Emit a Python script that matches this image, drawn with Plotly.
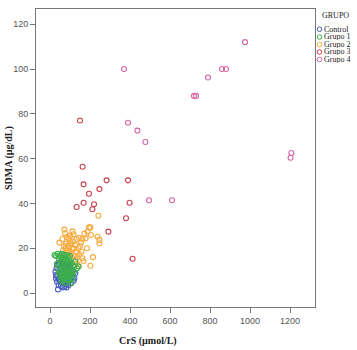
import plotly.graph_objects as go

# ---- data ----
groups = ["Control", "Grupo 1", "Grupo 2", "Grupo 3", "Grupo 4"]
colors = ["#4a5cc0", "#3cb04a", "#f7aa3c", "#c8414e", "#d466a6"]

control_x = [40, 43, 35, 30, 27, 30, 33, 38, 45, 50, 52, 55, 58, 60, 62, 65, 68, 70, 72, 75, 78, 80, 82, 85, 88,
             90, 92, 95, 98, 100, 105, 108, 112, 118, 127, 48, 52, 57, 63, 67, 73, 77, 83, 87, 93, 103, 115, 122, 36, 44]
control_y = [1.6, 3.6, 5, 6.5, 9.5, 8, 11, 12.5, 13.5, 7, 5, 3, 6, 9, 12, 4.5, 7.5, 10.5, 2.8, 6, 8.5, 12, 4, 7, 9.5,
             5.5, 3.5, 8, 11, 6.5, 4.5, 9, 7, 5.5, 8.8, 9, 11, 14, 2.5, 13, 5, 11, 2.5, 12.5, 10, 12, 10, 6.5, 7.5, 6]

g1_x = [23, 30, 38, 45, 50, 55, 60, 65, 70, 75, 80, 85, 90, 95, 100, 35, 42, 48, 53, 57, 62, 66, 70, 73, 77, 82, 86,
        90, 94, 98, 103, 108, 112, 118, 125, 135, 143, 55, 60, 65, 68, 72, 76, 80, 84, 88, 92, 96, 100, 105, 107,
        110, 115, 50, 45, 58, 63, 78, 85, 120]
g1_y = [17, 16.5, 17.5, 15, 17, 16, 17.5, 15.5, 17, 16.5, 15, 17, 16, 14.5, 16.5, 13, 11, 12.5, 9.5, 13.5, 11, 8,
        12.5, 10, 13.5, 11.5, 9, 12.5, 10.5, 13, 11, 13.5, 10, 12, 14, 11, 11.8, 6.5, 5, 10, 6, 7.5, 4.5, 8.5, 6, 7,
        5.5, 8, 7, 9, 4.3, 6.5, 8, 8, 9, 14.5, 7, 9.5, 14, 9.5]

g2_x = [242, 195, 202, 72, 75, 188, 172, 117, 145, 178, 205, 238, 247, 247, 92, 100, 133, 162, 62, 120, 142, 162,
        167, 202, 147, 158, 47, 143, 47, 80, 88, 95, 105, 110, 115, 125, 130, 85, 90, 78, 98, 108, 118, 128, 138,
        150, 70, 65, 100, 112, 83, 155, 185, 215, 135]
g2_y = [34.5, 29.3, 29.3, 28.3, 26.6, 27.4, 26.5, 26.2, 24.7, 24.4, 25.9, 25.1, 23.7, 22.2, 24.4, 23.2, 24.1, 24.1,
        24.1, 19.8, 20, 15.5, 14.3, 12.2, 17.3, 18.4, 22.5, 12, 16.2, 22, 21, 20.5, 22, 20, 23, 21.5, 18.5, 19, 18,
        20, 18.5, 17.5, 16.5, 15, 16, 21, 21, 19, 25.5, 27.5, 25, 22.5, 20, 16, 13]

g3_x = [150, 163, 168, 283, 390, 195, 247, 168, 220, 133, 212, 398, 380, 413, 292]
g3_y = [77, 56.4, 48.5, 50.3, 50.3, 44.3, 46.4, 40.3, 39.6, 38.4, 37.4, 40.3, 33.4, 15.3, 27.4]

g4_x = [370, 975, 860, 880, 790, 720, 730, 390, 437, 477, 495, 610, 1207, 1203]
g4_y = [100, 112, 100, 100, 96.2, 88, 88, 76, 72.5, 67.4, 41.4, 41.4, 62.5, 60.4]

x_ticks = [0, 200, 400, 600, 800, 1000, 1200]
y_ticks = [0, 20, 40, 60, 80, 100, 120]

series = {
    "Control": (control_x, control_y),
    "Grupo 1": (g1_x, g1_y),
    "Grupo 2": (g2_x, g2_y),
    "Grupo 3": (g3_x, g3_y),
    "Grupo 4": (g4_x, g4_y),
}
draw_order = ["Grupo 4", "Grupo 3", "Grupo 2", "Control", "Grupo 1"]

fig = go.Figure()
for name in draw_order:
    xs, ys = series[name]
    c = colors[groups.index(name)]
    fig.add_trace(go.Scatter(
        x=xs, y=ys, mode="markers", name=name, showlegend=False,
        marker=dict(symbol="circle-open", size=5, color=c, line=dict(width=1.1, color=c)),
    ))

W, H = 357, 350
L, R, T, B = 36, 42, 9, 43
pw, ph = W - L - R, H - T - B

def px2paper_x(px):
    return (px - L) / pw

def px2paper_y(py):
    return (H - B - py) / ph

axis_common = dict(
    showline=True, linecolor="#777", linewidth=1, mirror=True,
    ticks="outside", ticklen=5, tickcolor="#777", tickwidth=1,
    showgrid=False, zeroline=False,
    tickfont=dict(family="Liberation Sans, Arial", size=9, color="#555"),
)

fig.update_layout(
    width=W, height=H,
    margin=dict(l=L, r=R, t=T, b=B),
    paper_bgcolor="white", plot_bgcolor="white",
    xaxis=dict(range=[-70, 1325], tickvals=x_ticks, **axis_common),
    yaxis=dict(range=[-6.25, 126.8], tickvals=y_ticks, **axis_common),
    font=dict(family="Liberation Serif, Times New Roman, serif", size=9, color="#222"),
)

annotations = [
    dict(text="<b>CrS (µmol/L)</b>", x=px2paper_x(148), y=px2paper_y(341), xref="paper", yref="paper",
         showarrow=False, xanchor="center", yanchor="middle",
         font=dict(family="Liberation Serif", size=10, color="#222")),
    dict(text="<b>SDMA (µg/dL)</b>", x=px2paper_x(9), y=px2paper_y(158), xref="paper", yref="paper",
         showarrow=False, xanchor="center", yanchor="middle", textangle=-90,
         font=dict(family="Liberation Serif", size=10, color="#222")),
    dict(text="GRUPO", x=px2paper_x(320), y=px2paper_y(15.5), xref="paper", yref="paper",
         showarrow=False, xanchor="left", yanchor="middle",
         font=dict(family="Liberation Serif", size=8, color="#222")),
]
shapes = []
item_y = [29.3, 37, 44.5, 52, 59.5]
for g, c, yc in zip(groups, colors, item_y):
    annotations.append(dict(text=g, x=px2paper_x(322.5), y=px2paper_y(yc), xref="paper", yref="paper",
                            showarrow=False, xanchor="left", yanchor="middle", borderpad=0, height=7,
                            font=dict(family="Liberation Serif", size=8, color="#222")))
    r = 2.3
    shapes.append(dict(type="circle", xref="paper", yref="paper",
                       x0=px2paper_x(319.5 - r), x1=px2paper_x(319.5 + r),
                       y0=px2paper_y(yc + r), y1=px2paper_y(yc - r),
                       line=dict(color=c, width=1)))

fig.update_layout(annotations=annotations, shapes=shapes)
fig.write_html("out.html", config={"displayModeBar": False},
               post_script="document.body.style.margin='0';document.body.style.overflow='hidden';")
